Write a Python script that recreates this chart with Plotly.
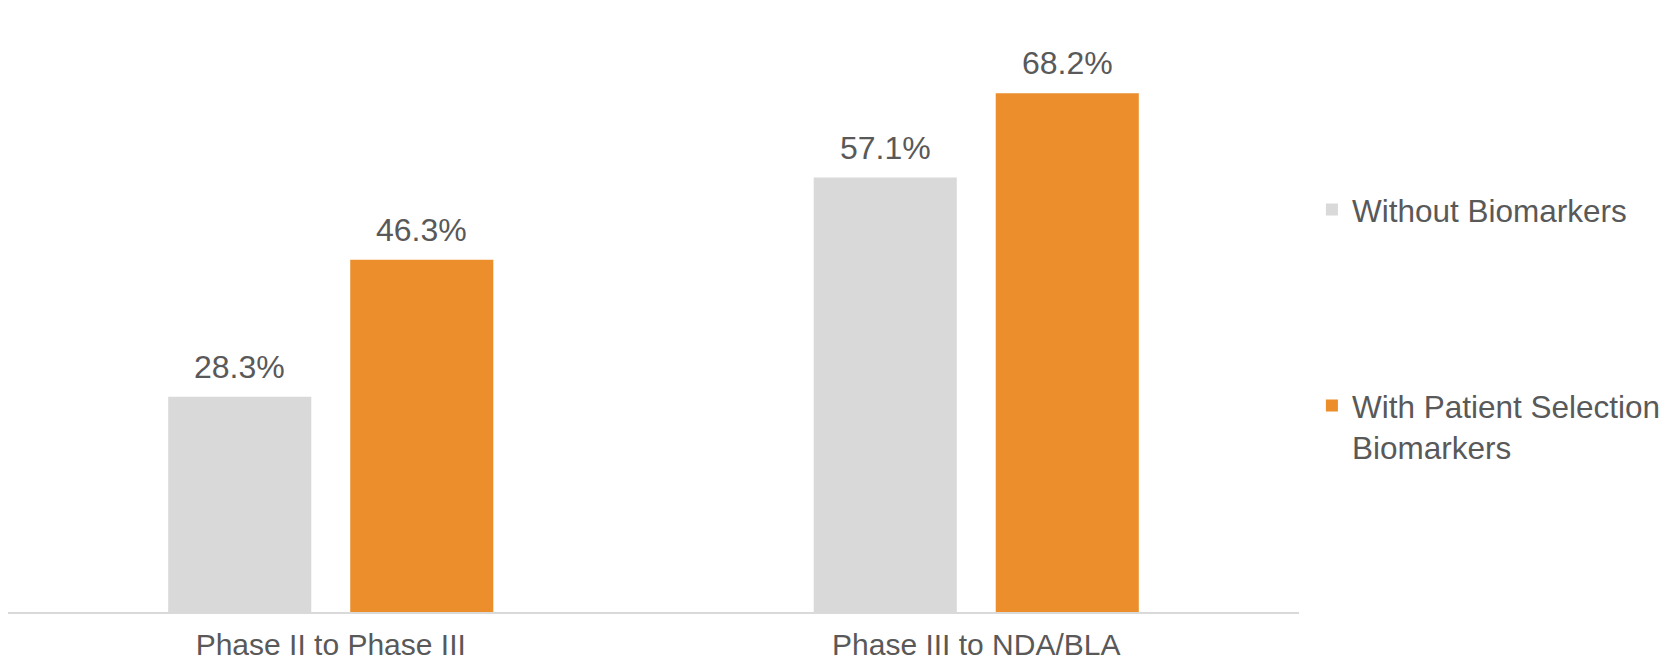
import plotly.graph_objects as go

categories = ["Phase II to Phase III", "Phase III to NDA/BLA"]
without_biomarkers = [28.3, 57.1]
with_selection_biomarkers = [46.3, 68.2]
series_names = ["Without Biomarkers", "With Patient Selection<br>Biomarkers"]

GRAY = "#D9D9D9"
ORANGE = "#EB8E2B"
TEXT = "#595959"
FONT = "Arial, Liberation Sans, sans-serif"

fig = go.Figure()
series = [
    (series_names[0], without_biomarkers, GRAY, "a"),
    (series_names[1], with_selection_biomarkers, ORANGE, "b"),
]
for name, vals, color, grp in series:
    fig.add_trace(go.Bar(
        x=categories, y=vals, name=name, legendgroup=grp, offsetgroup=grp,
        marker=dict(color=color, line=dict(width=0)),
        cliponaxis=False,
    ))

# value labels above each bar, positioned by the bar's own value
bar_slot = 0.5 * (1 - 0.436)
for i, (name, vals, color, grp) in enumerate(series):
    offset = (i - 0.5) * bar_slot
    for j, v in enumerate(vals):
        fig.add_annotation(
            x=j + offset, y=v, xref="x", yref="y",
            text=f"{v:.1f}%", showarrow=False,
            yanchor="bottom", yshift=10,
            font=dict(size=32, color=TEXT, family=FONT),
        )

fig.update_layout(
    width=1663, height=665,
    margin=dict(l=8, r=364, t=30, b=53, autoexpand=False),
    paper_bgcolor="white", plot_bgcolor="white",
    barmode="group", bargap=0.436, bargroupgap=0.214,
    font=dict(family=FONT, size=30, color=TEXT),
    showlegend=True,
    legend=dict(
        x=1.01, xanchor="left", xref="paper",
        y=0.738, yanchor="top",
        font=dict(size=31.5, color=TEXT, family=FONT),
        tracegroupgap=152, valign="top",
        itemwidth=30, bgcolor="rgba(0,0,0,0)",
    ),
    xaxis=dict(
        showline=True, linecolor=GRAY, linewidth=2, automargin=False,
        showgrid=False, ticks="outside", ticklen=5, tickcolor="rgba(0,0,0,0)",
        tickfont=dict(size=30, color=TEXT, family=FONT),
    ),
    yaxis=dict(range=[0, 76.5], visible=False, showgrid=False, automargin=False),
)

fig.write_html("out.html")
